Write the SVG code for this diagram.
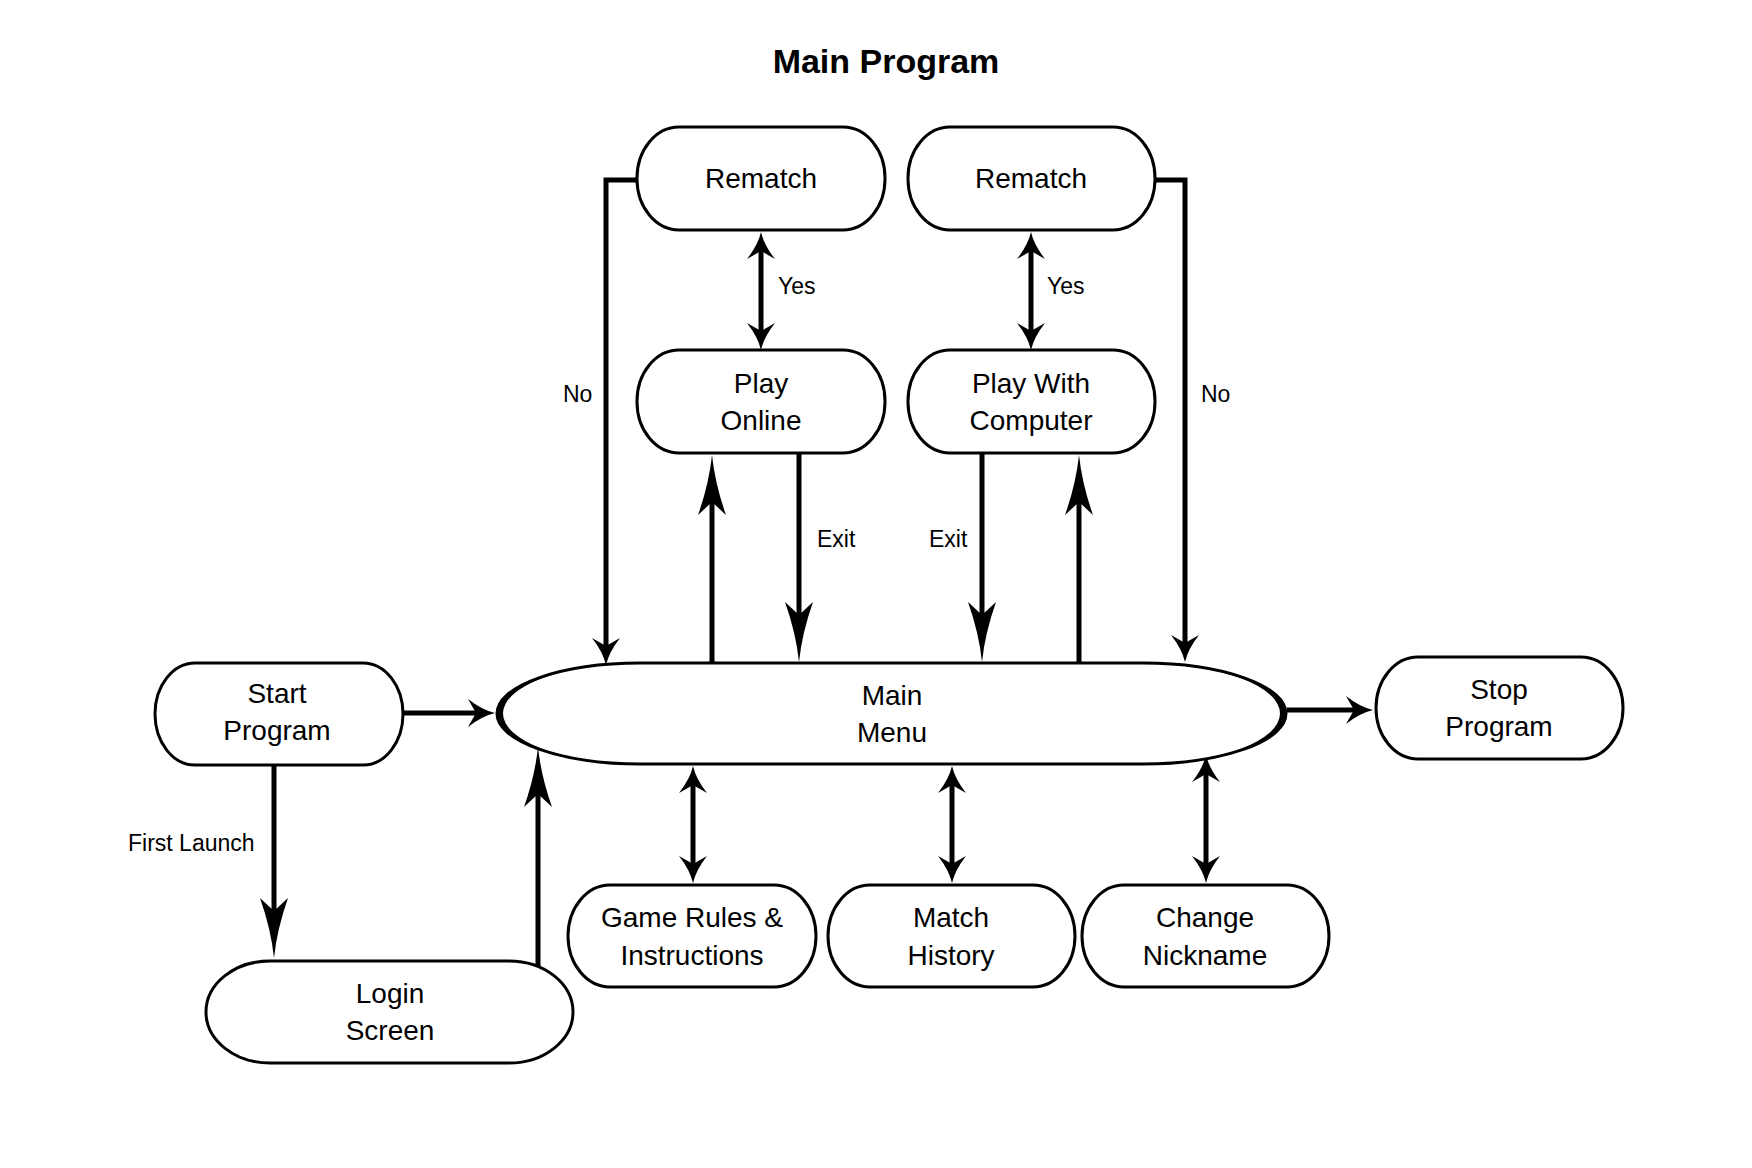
<svg xmlns="http://www.w3.org/2000/svg" width="1752" height="1168" viewBox="0 0 1752 1168">
<style>
  .node { fill: #fff; stroke: #000; stroke-width: 3; }
  .nt { font-family: "Liberation Sans", Arial, sans-serif; font-size: 28px; fill: #000; text-anchor: middle; }
  .lbl { font-family: "Liberation Sans", Arial, sans-serif; font-size: 23px; fill: #000; }
  .title { font-family: "Liberation Sans", Arial, sans-serif; font-size: 34px; font-weight: bold; fill: #000; text-anchor: middle; }
  .conn path { fill: none; stroke: #000; stroke-width: 5; }
  .crescent { fill: #000; stroke: none; }
</style>
<defs>
  <marker id="ahS" markerUnits="userSpaceOnUse" orient="auto-start-reverse" overflow="visible" markerWidth="40" markerHeight="40" refX="0" refY="0">
    <path d="M19,0 Q6,-3 -8,-14 L0,0 L-8,14 Q6,3 19,0 Z" fill="#000" stroke="none"/>
  </marker>
  <marker id="ahL" markerUnits="userSpaceOnUse" orient="auto-start-reverse" overflow="visible" markerWidth="80" markerHeight="40" refX="0" refY="0">
    <path d="M47,0 Q18,-3 -13,-14 L0,0 L-13,14 Q18,3 47,0 Z" fill="#000" stroke="none"/>
  </marker>
</defs>
<rect width="1752" height="1168" fill="#fff"/>

<text class="title" x="886" y="73">Main Program</text>

<g id="connectors" class="conn">
  <path d="M637,180 H606 V646" marker-end="url(#ahS)"/>
  <path d="M1155,180 H1185 V643" marker-end="url(#ahS)"/>
  <path d="M761,251 V331" marker-start="url(#ahS)" marker-end="url(#ahS)"/>
  <path d="M1031,251 V331" marker-start="url(#ahS)" marker-end="url(#ahS)"/>
  <path d="M712,663 V502" marker-end="url(#ahL)"/>
  <path d="M799,453 V615" marker-end="url(#ahL)"/>
  <path d="M982,453 V615" marker-end="url(#ahL)"/>
  <path d="M1079,663 V502" marker-end="url(#ahL)"/>
  <path d="M403,713 H476" marker-end="url(#ahS)"/>
  <path d="M1287,710 H1354" marker-end="url(#ahS)"/>
  <path d="M274,765 V911" marker-end="url(#ahL)"/>
  <path d="M538,967 V794" marker-end="url(#ahL)"/>
  <path d="M693,785 V864" marker-start="url(#ahS)" marker-end="url(#ahS)"/>
  <path d="M952,785 V864" marker-start="url(#ahS)" marker-end="url(#ahS)"/>
  <path d="M1206,774 V864" marker-start="url(#ahS)" marker-end="url(#ahS)"/>
</g>

<g id="labels">
  <text class="lbl" x="778" y="294">Yes</text>
  <text class="lbl" x="1047" y="294">Yes</text>
  <text class="lbl" x="563" y="402">No</text>
  <text class="lbl" x="1201" y="402">No</text>
  <text class="lbl" x="817" y="547">Exit</text>
  <text class="lbl" x="929" y="547">Exit</text>
  <text class="lbl" x="128" y="851">First Launch</text>
</g>

<g id="rematch-online">
  <rect class="node" x="637" y="127" width="248" height="103" rx="42" ry="51"/>
  <text class="nt" x="761" y="188">Rematch</text>
</g>
<g id="rematch-computer">
  <rect class="node" x="908" y="127" width="247" height="103" rx="42" ry="51"/>
  <text class="nt" x="1031" y="188">Rematch</text>
</g>
<g id="play-online">
  <rect class="node" x="637" y="350" width="248" height="103" rx="42" ry="51"/>
  <text class="nt" x="761" y="393">Play</text>
  <text class="nt" x="761" y="430">Online</text>
</g>
<g id="play-computer">
  <rect class="node" x="908" y="350" width="247" height="103" rx="42" ry="51"/>
  <text class="nt" x="1031" y="393">Play With</text>
  <text class="nt" x="1031" y="430">Computer</text>
</g>
<g id="start-program">
  <rect class="node" x="155" y="663" width="248" height="102" rx="40" ry="51"/>
  <text class="nt" x="277" y="703">Start</text>
  <text class="nt" x="277" y="740">Program</text>
</g>
<g id="main-menu">
  <path class="node" d="M640,663 L1143,663 A143,50.5 0 0 1 1143,764 L640,764 A143,50.5 0 0 1 640,663 Z"/>
  <path class="crescent" d="M640,663 A143,50.5 0 0 0 640,764 A137,50.5 0 0 1 640,663 Z"/>
  <path class="crescent" d="M1143,663 A143,50.5 0 0 1 1143,764 A137,50.5 0 0 0 1143,663 Z"/>
  <text class="nt" x="892" y="705">Main</text>
  <text class="nt" x="892" y="742">Menu</text>
</g>
<g id="stop-program">
  <rect class="node" x="1376" y="657" width="247" height="102" rx="42" ry="51"/>
  <text class="nt" x="1499" y="699">Stop</text>
  <text class="nt" x="1499" y="736">Program</text>
</g>
<g id="login-screen">
  <rect class="node" x="206" y="961" width="367" height="102" rx="64" ry="51"/>
  <text class="nt" x="390" y="1003">Login</text>
  <text class="nt" x="390" y="1040">Screen</text>
</g>
<g id="game-rules">
  <rect class="node" x="568" y="885" width="248" height="102" rx="42" ry="51"/>
  <text class="nt" x="692" y="927">Game Rules &amp;</text>
  <text class="nt" x="692" y="965">Instructions</text>
</g>
<g id="match-history">
  <rect class="node" x="828" y="885" width="247" height="102" rx="42" ry="51"/>
  <text class="nt" x="951" y="927">Match</text>
  <text class="nt" x="951" y="965">History</text>
</g>
<g id="change-nickname">
  <rect class="node" x="1082" y="885" width="247" height="102" rx="42" ry="51"/>
  <text class="nt" x="1205" y="927">Change</text>
  <text class="nt" x="1205" y="965">Nickname</text>
</g>
</svg>
